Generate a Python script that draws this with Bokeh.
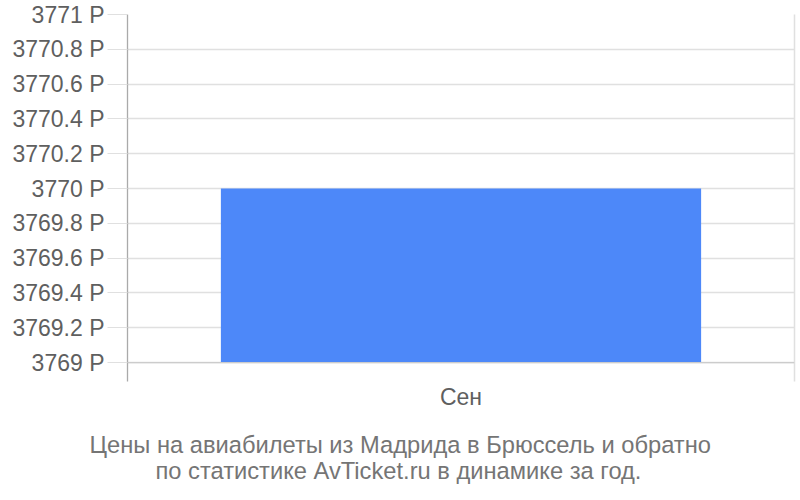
from bokeh.plotting import figure
from bokeh.models import (FixedTicker, LinearAxis, Title, Span, Range1d, ColumnDataSource)
from bokeh.embed import file_html
from bokeh.resources import INLINE

# ---- data ----
months = ["Сен"]
prices = [3770]
baseline = [3769]
y_ticks = [3769, 3769.2, 3769.4, 3769.6, 3769.8, 3770, 3770.2, 3770.4, 3770.6, 3770.8, 3771]
y_tick_labels = ["3769 Р", "3769.2 Р", "3769.4 Р", "3769.6 Р", "3769.8 Р", "3770 Р",
                 "3770.2 Р", "3770.4 Р", "3770.6 Р", "3770.8 Р", "3771 Р"]
caption_lines = ["Цены на авиабилеты из Мадрида в Брюссель и обратно",
                 "по статистике AvTicket.ru в динамике за год."]

FONT = "Liberation Sans"

src = ColumnDataSource(dict(month=months, price=prices, base=baseline))

p = figure(width=800, height=500, x_range=months,
           y_range=Range1d(3768.891, 3771),
           output_backend="svg", toolbar_location=None,
           min_border_left=127, min_border_right=6, min_border_top=14, min_border_bottom=119)
p.x_range.range_padding = 0
p.outline_line_color = None
p.background_fill_color = "white"
p.border_fill_color = "white"

p.vbar(x="month", top="price", bottom="base", width=0.72, source=src,
       fill_color="#4d88f9", line_color=None)

# y axis
ya = p.yaxis[0]
ya.ticker = FixedTicker(ticks=y_ticks)
ya.major_label_overrides = {t: l for t, l in zip(y_ticks, y_tick_labels)}
ya.axis_line_color = "#aaaaaa"
ya.axis_line_width = 1.3
ya.major_tick_in = 0
ya.major_tick_out = 20
ya.major_tick_line_color = "#e0e0e0"
ya.minor_tick_line_color = None
ya.major_label_standoff = 3
ya.major_label_text_font = FONT
ya.major_label_text_font_size = "23px"
ya.major_label_text_color = "#5f5f5f"

# x axis
xa = p.xaxis[0]
xa.axis_line_color = None
xa.major_tick_line_color = None
xa.minor_tick_line_color = None
xa.major_tick_in = 0
xa.major_tick_out = 0
xa.major_label_standoff = 2
xa.major_label_text_font = FONT
xa.major_label_text_font_size = "23px"
xa.major_label_text_color = "#5f5f5f"

# grids
p.xgrid.grid_line_color = None
p.ygrid.ticker = FixedTicker(ticks=y_ticks)
p.ygrid.grid_line_color = "#e0e0e0"
p.ygrid.grid_line_width = 1.3
p.add_layout(Span(location=baseline[0], dimension="width", line_color="#cccccc", line_width=1.3))

# right border line
ra = LinearAxis(ticker=FixedTicker(ticks=[]), axis_line_color="#e0e0e0", axis_line_width=1.5,
                major_tick_in=0, major_tick_out=0, minor_tick_in=0, minor_tick_out=0,
                major_label_standoff=0)
p.add_layout(ra, "right")

# invisible spacer axis between the month label and the caption
spacer = LinearAxis(ticker=FixedTicker(ticks=[0.5]), major_label_overrides={0.5: ""},
                    axis_line_color=None, major_tick_line_color=None,
                    major_tick_in=0, major_tick_out=17, minor_tick_in=0, minor_tick_out=0,
                    major_label_standoff=0)
p.add_layout(spacer, "below")

# caption as two titles below the plot
offsets = [-38, 28]
valigns = ["bottom", "top"]
for line, off, va in zip(caption_lines, offsets, valigns):
    p.add_layout(Title(text=line, align="left", offset=off, standoff=0, vertical_align=va,
                       text_font=FONT, text_font_size="23.7px", text_font_style="normal",
                       text_color="#757575"), "below")

open("out.html", "w").write(file_html(p, INLINE))
